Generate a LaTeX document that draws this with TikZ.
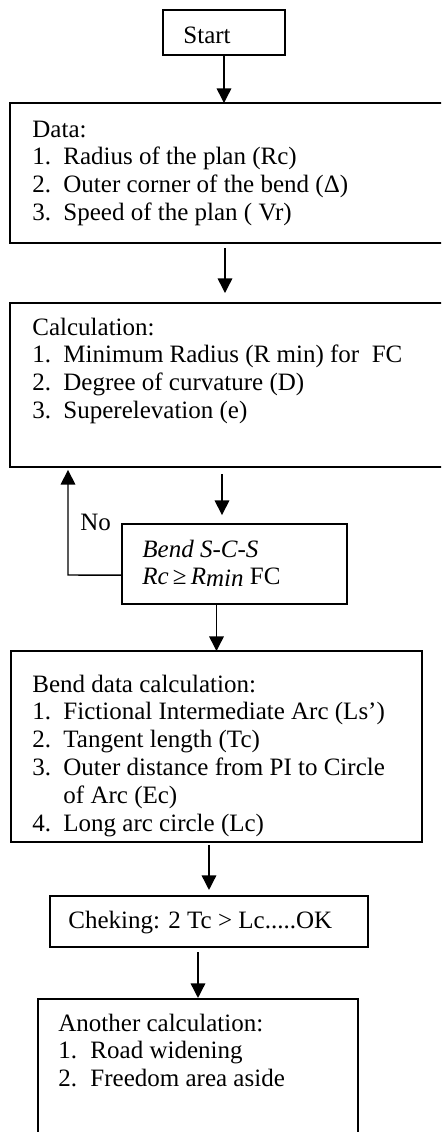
\documentclass[tikz,border=0pt]{standalone}
\usepackage{fontspec}
\setmainfont{Liberation Serif}
\usetikzlibrary{arrows.meta}

\begin{document}
\begin{tikzpicture}[x=0.48pt, y=0.48pt,
    box/.style={draw, line width=0.9pt, inner sep=0pt, outer sep=0pt, anchor=north west},
    boxsize/.style 2 args={minimum width=#1*0.48pt, minimum height=#2*0.48pt},
    txt/.style={inner sep=0pt, anchor=base west, font=\fontsize{12pt}{13.4pt}\selectfont},
    arr/.style={line width=0.7pt, -{Triangle[width=7pt,length=7pt]}}]
    \useasboundingbox (0,0) rectangle (441,-1132);
    \clip (0,0) rectangle (441,-1132);

    % kotak-kotak
    \node[box, boxsize={122}{45}] (start) at (163,-10) {};
    \node[box, boxsize={450}{140}] (data) at (10,-103) {};
    \node[box, boxsize={450}{164}] (calc) at (10,-303) {};
    \node[box, boxsize={225}{80}] (bendcheck) at (122,-524) {};
    \node[box, boxsize={411}{191}] (benddata) at (11,-651) {};
    \node[box, boxsize={318}{51}] (tccheck) at (50,-896) {};
    \node[box, boxsize={320}{160}] (other) at (38,-999) {};

    % teks
    \node[txt] (startlbl) at (183,-43) {Start};
    \node[txt] (datalbl) at (32,-137) {\begin{tabular}[t]{@{}p{14.9pt}@{}l@{}}
        \multicolumn{2}{@{}l@{}}{Data:}\\
        1. & Radius of the plan (Rc)\\
        2. & Outer corner of the bend (Δ)\\
        3. & Speed of the plan ( Vr)
    \end{tabular}};
    \node[txt] (calclbl) at (32,-335) {\begin{tabular}[t]{@{}p{14.9pt}@{}l@{}}
        \multicolumn{2}{@{}l@{}}{Calculation:}\\
        1. & Minimum Radius (R min) for\ \ FC\\
        2. & Degree of curvature (D)\\
        3. & Superelevation (e)
    \end{tabular}};
    \node[txt] (bendchecklbl) at (142,-557) {\begin{tabular}[t]{@{}l@{}}
        \textit{Bend S-C-S}\\
        \textit{Rc}\,≥\,\textit{R\raisebox{-0.8pt}{min}} FC
    \end{tabular}};
    \node[txt] (benddatalbl) at (32,-692) {\begin{tabular}[t]{@{}p{14.9pt}@{}l@{}}
        \multicolumn{2}{@{}l@{}}{Bend data calculation:}\\
        1. & Fictional Intermediate Arc (Ls’)\\
        2. & Tangent length (Tc)\\
        3. & Outer distance from PI to Circle\\
           & of Arc (Ec)\\
        4. & Long arc circle (Lc)
    \end{tabular}};
    \node[txt] (tchecklbl) at (68,-928) {Cheking: 2 Tc > Lc.....OK};
    \node[txt] (otherlbl) at (58,-1031) {\begin{tabular}[t]{@{}p{15.4pt}@{}l@{}}
        \multicolumn{2}{@{}l@{}}{Another calculation:}\\
        1. & Road widening\\
        2. & Freedom area aside
    \end{tabular}};
    \node[txt] (nolbl) at (80,-530) {No};

    % panah
    \draw[arr] (start.south) -- (start.south |- data.north);
    \draw[arr, shorten <=2.4pt, shorten >=4.8pt] ([xshift=-4.8pt]data.south) -- ([xshift=-4.8pt]data.south |- calc.north);
    \draw[arr, shorten <=3.4pt, shorten >=4.3pt] ([xshift=-6pt]bendcheck.north |- calc.south) -- ([xshift=-6pt]bendcheck.north);
    \draw[arr] (benddata.north |- bendcheck.south) -- (benddata.north);
    \draw[arr, shorten <=1.4pt, shorten >=2.9pt] (tccheck.north |- benddata.south) -- (tccheck.north);
    \draw[arr, shorten <=2.4pt, shorten >=0.5pt] (other.north |- tccheck.south) -- (other.north);
    \coordinate (noturn) at (68,-575);
    \draw[arr, shorten >=1.4pt] ([yshift=-5.3pt]bendcheck.west) -- (noturn) -- (noturn |- calc.south);
\end{tikzpicture}
\end{document}
